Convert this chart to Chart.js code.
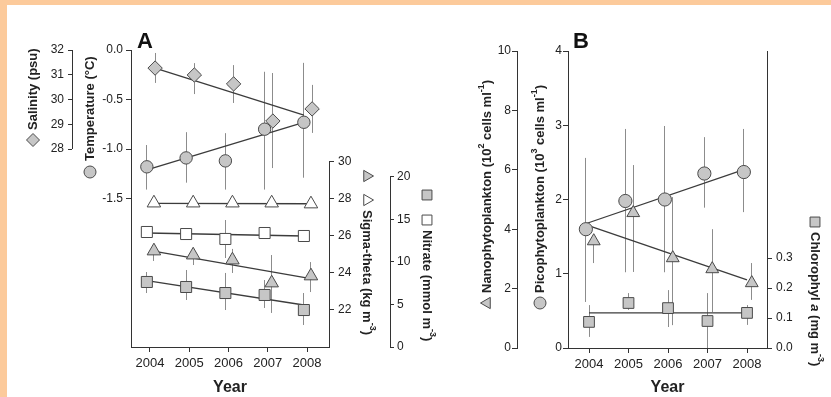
<!DOCTYPE html>
<html>
<head>
<meta charset="utf-8">
<script src="https://cdn.jsdelivr.net/npm/chart.js@4.4.0/dist/chart.umd.min.js"></script>
<style>
  html, body { margin: 0; padding: 0; }
  body { width: 831px; height: 397px; background: #fcca9b; position: relative; overflow: hidden; }
  #sheet { position: absolute; left: 7px; top: 5px; right: 0; bottom: 0; background: #fff; }
  canvas { position: absolute; top: 0; }
  #chartA { left: 0; }
  #chartB { left: 450px; }
</style>
</head>
<body>
<div id="sheet"></div>
<canvas id="chartA" width="450" height="397"></canvas>
<canvas id="chartB" width="381" height="397"></canvas>
<script>
var years = [2004, 2005, 2006, 2007, 2008];

// panel A, upper block
var salinity    = [31.27, 30.99, 30.63, 29.13, 29.62];
var salinityLo  = [30.67, 30.22, 29.86, 27.23, 28.65];
var salinityHi  = [31.88, 31.47, 31.39, 31.07, 30.59];
var salinityFitX = [2004.13, 2007.92];
var salinityFit  = [31.27, 29.37];

var temperature   = [-1.18, -1.09, -1.12, -0.80, -0.73];
var temperatureLo = [-1.41, -1.34, -1.41, -1.41, -1.29];
var temperatureHi = [-0.96, -0.83, -0.84, -0.22, -0.13];
var temperatureFitX = [2003.92, 2007.92];
var temperatureFit  = [-1.21, -0.73];

// panel A, lower block (open = upper layer, filled = lower layer)
var sigmaOpen     = [27.78, 27.78, 27.78, 27.78, 27.73];
var sigmaOpenFitX = [2004.10, 2008.13];
var sigmaOpenFit  = [27.76, 27.74];

var sigmaFilled   = [25.19, 24.97, 24.70, 23.46, 23.84];
var sigmaFilledLo = [24.65, 24.43, 24.00, 21.84, 22.97];
var sigmaFilledHi = [25.51, 25.24, 25.30, 24.97, 24.59];
var sigmaFilledFitX = [2004.05, 2008.13];
var sigmaFilledFit  = [25.19, 23.68];

var nitrateOpen   = [13.53, 13.29, 12.71, 13.41, 13.06];
var nitrateOpenLo = [null, null, 10.47, null, null];
var nitrateOpenHi = [null, null, 14.94, null, null];
var nitrateOpenFitX = [2003.92, 2007.92];
var nitrateOpenFit  = [13.41, 13.06];

var nitrateFilled   = [7.65, 7.06, 6.35, 6.12, 4.35];
var nitrateFilledLo = [6.35, 5.53, 4.35, 4.59, 2.59];
var nitrateFilledHi = [8.82, 9.06, 8.71, 7.88, 6.35];
var nitrateFilledFitX = [2003.92, 2007.92];
var nitrateFilledFit  = [7.80, 4.94];

// panel B
var pico    = [1.60, 1.98, 2.00, 2.35, 2.37];
var picoLo  = [0.62, 1.02, 1.02, 1.89, 1.83];
var picoHi  = [2.56, 2.95, 2.99, 2.84, 2.95];
var picoFitX = [2003.95, 2007.90];
var picoFit  = [1.68, 2.40];

var nano    = [3.60, 4.55, 3.03, 2.66, 2.19];
var nanoLo  = [2.86, 2.56, 0.77, 1.21, 1.62];
var nanoHi  = [3.80, 6.16, 5.08, 4.00, 2.86];
var nanoFitX = [2003.95, 2008.00];
var nanoFit  = [4.14, 2.29];

var chl     = [0.087, 0.150, 0.133, 0.090, 0.117];
var chlLo   = [0.037, 0.127, 0.070, 0.000, 0.077];
var chlHi   = [0.143, 0.183, 0.193, 0.183, 0.143];
var chlFitX = [2004, 2008];
var chlFit  = [0.117, 0.117];

// tick values
var salinityTicks    = [28, 29, 30, 31, 32];
var temperatureTicks = [0, -0.5, -1, -1.5];
var sigmaTicks       = [22, 24, 26, 28, 30];
var nitrateTicks     = [0, 5, 10, 15, 20];
var nanoTicks        = [0, 2, 4, 6, 8, 10];
var picoTicks        = [0, 1, 2, 3, 4];
var chlTicks         = [0, 0.1, 0.2, 0.3];

var FONT = '"Liberation Sans", Arial, Helvetica, sans-serif';
var INK = '#333';
var EDGE = '#4a4a4a';
var LINE = '#3c3c3c';
var GREY = '#c6c6c6';
var WHISKER = '#8c8c8c';

Chart.defaults.font.family = FONT;
Chart.defaults.font.size = 12;
Chart.defaults.color = '#222';

function pts(xs, ys) {
  return xs.map(function (x, i) { return {x: x, y: ys[i]}; });
}
function shift(dx) {
  return years.map(function (y) { return y + dx; });
}

function markerSet(axis, dx, ys, lo, hi, style, fill, r) {
  return {
    yAxisID: axis, data: pts(shift(dx), ys), errLo: lo, errHi: hi,
    showLine: false, pointStyle: style, pointRadius: r,
    pointBackgroundColor: fill, pointBorderColor: EDGE, pointBorderWidth: 1,
    order: 0
  };
}
function fitLine(axis, xs, ys) {
  return {
    yAxisID: axis, data: pts(xs, ys), showLine: true,
    borderColor: LINE, borderWidth: 1.3, pointRadius: 0, order: 1
  };
}

function yAxis(pos, weight, min, max, ticks, width, opt) {
  opt = opt || {};
  return {
    type: 'linear', position: pos, weight: weight, min: min, max: max,
    afterBuildTicks: function (s) { s.ticks = ticks.map(function (v) { return {value: v}; }); },
    afterFit: function (s) { s.width = width; },
    grid: {drawOnChartArea: false, drawTicks: true, tickLength: opt.tick || 5, color: INK},
    border: {display: opt.border !== false, color: INK},
    ticks: {padding: opt.pad == null ? 3 : opt.pad, autoSkip: false,
            callback: opt.fmt || function (v) { return String(v); }}
  };
}
function xAxis(min, max, height) {
  return {
    type: 'linear', position: 'bottom', min: min, max: max,
    afterBuildTicks: function (s) { s.ticks = years.map(function (v) { return {value: v}; }); },
    afterFit: function (s) { s.height = height; },
    grid: {drawOnChartArea: false, drawTicks: true, tickLength: 5, color: INK},
    border: {color: INK},
    ticks: {padding: 4, autoSkip: false, maxRotation: 0, font: {size: 13},
            callback: function (v) { return String(v); }},
    title: {display: true, text: 'Year', font: {size: 16, weight: 'bold'}, color: '#222',
            padding: {top: 0, bottom: 0}}
  };
}

// whiskers under every marker set that carries errLo/errHi
var errorBars = {
  id: 'errorBars',
  beforeDatasetsDraw: function (chart) {
    var ctx = chart.ctx;
    chart.data.datasets.forEach(function (ds, i) {
      if (!ds.errLo) return;
      var meta = chart.getDatasetMeta(i);
      var ys = chart.scales[ds.yAxisID];
      ctx.save();
      ctx.strokeStyle = WHISKER;
      ctx.lineWidth = 1;
      meta.data.forEach(function (pt, j) {
        if (ds.errLo[j] == null) return;
        var x = Math.round(pt.x - 0.5) + 0.5;
        ctx.beginPath();
        ctx.moveTo(x, ys.getPixelForValue(ds.errLo[j]));
        ctx.lineTo(x, ys.getPixelForValue(ds.errHi[j]));
        ctx.stroke();
      });
      ctx.restore();
    });
  }
};

function drawTitle(ctx, t) {
  ctx.save();
  ctx.translate(t.x, t.y);
  ctx.rotate(t.angle);
  var pos = 0;
  t.marks.forEach(function (m, k) {
    ctx.fillStyle = m.fill;
    ctx.strokeStyle = EDGE;
    ctx.lineWidth = 1;
    Chart.helpers.drawPoint(ctx, {pointStyle: m.style, radius: m.r, rotation: 0, borderWidth: 1}, pos, 0);
    if (k < t.marks.length - 1) pos += t.step;
  });
  pos += t.gap;
  ctx.textAlign = 'left';
  ctx.textBaseline = 'middle';
  ctx.fillStyle = '#222';
  t.runs.forEach(function (r) {
    var size = r.sup ? 9 : 13;
    ctx.font = (r.italic ? 'italic ' : '') + 'bold ' + size + 'px ' + FONT;
    ctx.fillText(r.text, pos, r.sup ? -5 : 0);
    pos += ctx.measureText(r.text).width;
  });
  ctx.restore();
}

// partial axis lines, axis titles with their symbols, panel letter
var axisDecor = {
  id: 'axisDecor',
  afterDraw: function (chart, args, opts) {
    var ctx = chart.ctx;
    ctx.save();
    ctx.strokeStyle = INK;
    ctx.lineWidth = 1;
    (opts.spans || []).forEach(function (s) {
      var sc = chart.scales[s.axis];
      var x = Math.round((sc.position === 'left' ? sc.right : sc.left) - 0.5) + 0.5;
      ctx.beginPath();
      ctx.moveTo(x, sc.getPixelForValue(s.from));
      ctx.lineTo(x, sc.getPixelForValue(s.to));
      ctx.stroke();
    });
    ctx.restore();
    (opts.titles || []).forEach(function (t) { drawTitle(ctx, t); });
    if (opts.letter) {
      ctx.save();
      ctx.font = 'bold 22px ' + FONT;
      ctx.fillStyle = '#111';
      ctx.textBaseline = 'alphabetic';
      ctx.fillText(opts.letter.text, opts.letter.x, opts.letter.y);
      ctx.restore();
    }
  }
};

var UP = -Math.PI / 2, DOWN = Math.PI / 2;
var common = {
  responsive: false, animation: false, events: [],
  plugins: {legend: {display: false}, tooltip: {enabled: false}}
};

new Chart(document.getElementById('chartA'), {
  type: 'scatter',
  data: {
    datasets: [
      fitLine('sal', salinityFitX, salinityFit),
      fitLine('temp', temperatureFitX, temperatureFit),
      fitLine('sigma', sigmaOpenFitX, sigmaOpenFit),
      fitLine('sigma', sigmaFilledFitX, sigmaFilledFit),
      fitLine('nitrate', nitrateOpenFitX, nitrateOpenFit),
      fitLine('nitrate', nitrateFilledFitX, nitrateFilledFit),
      markerSet('temp', -0.08, temperature, temperatureLo, temperatureHi, 'circle', GREY, 6.2),
      markerSet('sal', 0.13, salinity, salinityLo, salinityHi, 'rectRot', GREY, 7.2),
      markerSet('sigma', 0.10, sigmaOpen, null, null, 'triangle', '#fff', 7.8),
      markerSet('sigma', 0.10, sigmaFilled, sigmaFilledLo, sigmaFilledHi, 'triangle', GREY, 7.8),
      markerSet('nitrate', -0.08, nitrateOpen, nitrateOpenLo, nitrateOpenHi, 'rect', '#fff', 7.8),
      markerSet('nitrate', -0.08, nitrateFilled, nitrateFilledLo, nitrateFilledHi, 'rect', GREY, 7.8)
    ]
  },
  options: Object.assign({}, common, {
    layout: {padding: {left: 10, top: 50, right: 0, bottom: 0}},
    scales: {
      x: xAxis(2003.516, 2008.56, 50),
      temp: yAxis('left', 0, -3, 0, temperatureTicks, 59,
                  {fmt: function (v) { return v.toFixed(1); }}),
      sal: yAxis('left', 1, 20, 32, salinityTicks, 62, {border: false, tick: 4, pad: 4}),
      sigma: yAxis('right', 0, 20, 36.05, sigmaTicks, 61, {border: false, pad: 4}),
      nitrate: yAxis('right', 1, 0, 34.94, nitrateTicks, 60, {border: false, tick: 4, pad: 3})
    },
    plugins: Object.assign({}, common.plugins, {
      axisDecor: {
        letter: {text: 'A', x: 137, y: 48},
        spans: [
          {axis: 'sal', from: 28, to: 32},
          {axis: 'sigma', from: 20, to: 30},
          {axis: 'nitrate', from: 0, to: 20}
        ],
        titles: [
          {x: 33, y: 140, angle: UP, step: 0, gap: 10,
           marks: [{style: 'rectRot', fill: GREY, r: 6.5}],
           runs: [{text: 'Salinity (psu)'}]},
          {x: 90, y: 172, angle: UP, step: 0, gap: 11,
           marks: [{style: 'circle', fill: GREY, r: 6}],
           runs: [{text: 'Temperature (\u00b0C)'}]},
          {x: 367, y: 176, angle: DOWN, step: 24, gap: 10,
           marks: [{style: 'triangle', fill: GREY, r: 6.5}, {style: 'triangle', fill: '#fff', r: 6.5}],
           runs: [{text: 'Sigma-theta (kg m'}, {text: '-3', sup: true}, {text: ')'}]},
          {x: 427, y: 195, angle: DOWN, step: 25, gap: 10,
           marks: [{style: 'rect', fill: GREY, r: 7}, {style: 'rect', fill: '#fff', r: 7}],
           runs: [{text: 'Nitrate (mmol m'}, {text: '-3', sup: true}, {text: ')'}]}
        ]
      }
    })
  }),
  plugins: [errorBars, axisDecor]
});

new Chart(document.getElementById('chartB'), {
  type: 'scatter',
  data: {
    datasets: [
      fitLine('pico', picoFitX, picoFit),
      fitLine('nano', nanoFitX, nanoFit),
      fitLine('chl', chlFitX, chlFit),
      markerSet('pico', -0.08, pico, picoLo, picoHi, 'circle', GREY, 6.6),
      markerSet('nano', 0.12, nano, nanoLo, nanoHi, 'triangle', GREY, 7.4),
      markerSet('chl', 0, chl, chlLo, chlHi, 'rect', GREY, 7.6)
    ]
  },
  options: Object.assign({}, common, {
    layout: {padding: {left: 20, top: 51, right: 0, bottom: 0}},
    scales: {
      x: xAxis(2003.468, 2008.506, 49),
      pico: yAxis('left', 0, 0, 4, picoTicks, 51, {pad: 1}),
      nano: yAxis('left', 1, 0, 10, nanoTicks, 47, {pad: 1}),
      chl: yAxis('right', 0, 0, 0.99, chlTicks, 64,
                 {pad: 4, fmt: function (v) { return v.toFixed(1); }})
    },
    plugins: Object.assign({}, common.plugins, {
      axisDecor: {
        letter: {text: 'B', x: 123, y: 48},
        titles: [
          {x: 37, y: 303, angle: UP, step: 0, gap: 10,
           marks: [{style: 'triangle', fill: GREY, r: 6.5}],
           runs: [{text: 'Nanophytoplankton (10'}, {text: '2', sup: true},
                  {text: ' cells ml'}, {text: '-1', sup: true}, {text: ')'}]},
          {x: 90, y: 303, angle: UP, step: 0, gap: 10,
           marks: [{style: 'circle', fill: GREY, r: 6}],
           runs: [{text: 'Picophytoplankton (10'}, {text: '3', sup: true},
                  {text: ' cells ml'}, {text: '-1', sup: true}, {text: ')'}]},
          {x: 365, y: 222, angle: DOWN, step: 0, gap: 10,
           marks: [{style: 'rect', fill: GREY, r: 7}],
           runs: [{text: 'Chlorophyl '}, {text: 'a', italic: true},
                  {text: ' (mg m'}, {text: '-3', sup: true}, {text: ')'}]}
        ]
      }
    })
  }),
  plugins: [errorBars, axisDecor]
});
</script>
</body>
</html>
